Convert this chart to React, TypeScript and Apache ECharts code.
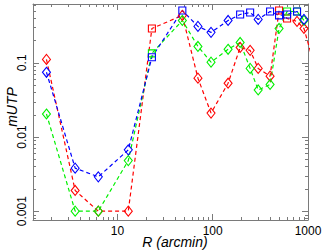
import React, { useEffect, useRef } from "react";
import * as echarts from "echarts";

// Radius (arcmin) of each measurement
const radius = [1.8, 3.6, 6.3, 13, 23, 48, 70, 96, 145, 194, 247, 300, 400, 497, 603, 767, 907, 1100];
// mUTP values per series
const redValues = [0.111, 0.0019, 0.001, 0.001, 0.29, 0.435, 0.062, 0.021, 0.053, 0.161, 0.147, 0.084, 0.066, 0.507, 0.395, 0.361, 0.29, 0.12];
const greenValues = [0.0204, 0.001, 0.001, 0.0048, 0.134, 0.372, 0.166, 0.102, 0.152, 0.188, 0.084, 0.043, 0.051, 0.29, 0.491, 0.491, 0.372];
const blueValues = [0.0745, 0.0038, 0.0029, 0.0067, 0.119, 0.507, 0.309, 0.257, 0.372, 0.448, 0.476, 0.384, 0.491, 0.435, 0.448, 0.491, 0.384];
// indices of points drawn as squares (others are diamonds)
const redSquares = [4, 13, 14];
const greenSquares = [4, 14, 15];
const blueSquares = [4, 5, 9, 10, 12, 13, 14, 15];

const xRange = [1.3, 1000];
const yRange = [0.00076, 0.62];
const xTickLabels = ["10", "100", "1000"];
const yTickLabels = ["0.001", "0.01", "0.1"];

const AXIS_GRAY = "#7a7a7a";
const FONT = "Liberation Sans, Arial, Helvetica, sans-serif";

function buildData(values: number[], squares: number[]) {
  const out: any[] = [];
  values.forEach((v, i) => {
    if (v == null) return;
    const sq = squares.includes(i);
    out.push({
      value: [radius[i], v],
      symbol: sq ? "rect" : "diamond",
      symbolSize: sq ? [7, 7] : [8, 10],
    });
  });
  return out;
}

function minorTicks(lo: number, hi: number) {
  const res: number[] = [];
  for (let e = -5; e <= 4; e++) {
    for (let m = 2; m <= 9; m++) {
      const v = m * Math.pow(10, e);
      if (v > lo && v < hi) res.push(v);
    }
  }
  return res;
}

export default function App() {
  const ref = useRef<HTMLDivElement>(null);
  useEffect(() => {
    if (!ref.current) return;
    const chart = echarts.init(ref.current, undefined, { renderer: "svg" });

    const tickData: any[] = [];
    minorTicks(xRange[0], xRange[1]).forEach((v) => tickData.push([v, 0.01, 0]));
    minorTicks(yRange[0], yRange[1]).forEach((v) => tickData.push([10, v, 1]));

    const lineSeries = (name: string, color: string, values: number[], squares: number[]) => ({
      name,
      type: "line",
      data: buildData(values, squares),
      clip: true,
      showAllSymbol: true,
      lineStyle: { color, width: 1.2, type: [4, 3] },
      itemStyle: { color: "rgba(255,255,255,0)", borderColor: color, borderWidth: 1.1 },
      emphasis: { disabled: true },
      z: 3,
    });

    const xLabelFmt = (v: number) => {
      const s = String(Math.round(v));
      return xTickLabels.includes(s) ? s : "";
    };
    const yLabelFmt = (v: number) => {
      const s = String(parseFloat(v.toPrecision(1)));
      return yTickLabels.includes(s) ? s : "";
    };

    const commonAxis = {
      type: "log",
      logBase: 10,
      axisLine: { show: true, lineStyle: { color: AXIS_GRAY, width: 1 } },
      axisTick: { show: true, inside: true, length: 6, lineStyle: { color: AXIS_GRAY } },
      splitLine: { show: false },
    };

    chart.setOption({
      animation: false,
      backgroundColor: "#ffffff",
      grid: { left: 33, right: 19, top: 4, bottom: 31, containLabel: false, outerBoundsMode: "none" },
      xAxis: [
        {
          ...commonAxis,
          min: xRange[0],
          max: xRange[1],
          position: "bottom",
          axisLabel: {
            show: true,
            margin: 5,
            color: "#000",
            fontSize: 12,
            fontFamily: FONT,
            showMinLabel: false,
            showMaxLabel: true,
            formatter: xLabelFmt,
          },
          name: "R (arcmin)",
          nameLocation: "middle",
          nameGap: 15,
          nameMoveOverlap: false,
          nameTextStyle: { color: "#000", fontSize: 14, fontStyle: "italic", fontFamily: FONT, padding: [0, 0, 0, 9] },
        },
        {
          ...commonAxis,
          min: xRange[0],
          max: xRange[1],
          position: "top",
          axisLabel: { show: false },
        },
      ],
      yAxis: [
        {
          ...commonAxis,
          min: yRange[0],
          max: yRange[1],
          position: "left",
          axisLabel: {
            show: true,
            rotate: 90,
            margin: 5,
            color: "#000",
            fontSize: 12,
            fontFamily: FONT,
            showMinLabel: false,
            showMaxLabel: false,
            formatter: yLabelFmt,
          },
          name: "mUTP",
          nameLocation: "middle",
          nameGap: 14,
          nameRotate: 90,
          nameMoveOverlap: false,
          nameTextStyle: { color: "#000", fontSize: 14, fontStyle: "italic", fontFamily: FONT, padding: [0, 0, 0, 10] },
        },
        {
          ...commonAxis,
          min: yRange[0],
          max: yRange[1],
          position: "right",
          axisLabel: { show: false },
        },
      ],
      series: [
        {
          type: "custom",
          silent: true,
          xAxisIndex: 0,
          yAxisIndex: 0,
          encode: { x: 0, y: 1 },
          data: tickData,
          z: 1,
          renderItem: (params: any, api: any) => {
            const cs = params.coordSys;
            const kind = api.value(2);
            const p = api.coord([api.value(0), api.value(1)]);
            const style = { stroke: AXIS_GRAY, lineWidth: 1 };
            if (kind === 0) {
              const x = Math.round(p[0]) + 0.5;
              const yb = cs.y + cs.height;
              return {
                type: "group",
                children: [
                  { type: "line", shape: { x1: x, y1: yb, x2: x, y2: yb - 3 }, style },
                  { type: "line", shape: { x1: x, y1: cs.y, x2: x, y2: cs.y + 3 }, style },
                ],
              };
            }
            const y = Math.round(p[1]) + 0.5;
            const xr = cs.x + cs.width;
            return {
              type: "group",
              children: [
                { type: "line", shape: { x1: cs.x, y1: y, x2: cs.x + 3, y2: y }, style },
                { type: "line", shape: { x1: xr, y1: y, x2: xr - 3, y2: y }, style },
              ],
            };
          },
        },
        lineSeries("red", "#ff0000", redValues, redSquares),
        lineSeries("green", "#00f000", greenValues, greenSquares),
        lineSeries("blue", "#0000ff", blueValues, blueSquares),
      ],
    });
    return () => chart.dispose();
  }, []);

  return (
    <div
      ref={ref}
      style={{ position: "fixed", left: 0, top: 0, width: 327, height: 251, background: "#fff" }}
    />
  );
}
